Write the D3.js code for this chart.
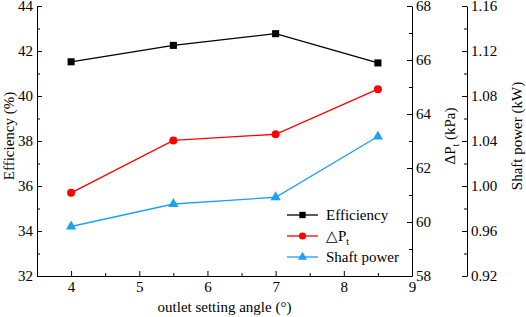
<!DOCTYPE html>
<html>
<head>
<meta charset="utf-8">
<script src="https://cdn.jsdelivr.net/npm/d3@7"></script>
<style>
  body { margin: 0; background: #fff; }
  .axis path, .axis line { stroke: #000; stroke-width: 1; }
</style>
</head>
<body>
<div id="chart"></div>
<script>
// Data
const angles = [4, 5.5, 7, 8.5];
const efficiency = [41.52, 42.25, 42.77, 41.47];
const deltaP = [61.08, 63.02, 63.25, 64.92];
const shaftPower = [0.964, 0.984, 0.990, 1.044];

const xTicks = [4, 5, 6, 7, 8, 9];
const effTicks = [32, 34, 36, 38, 40, 42, 44];
const dpTicks = [58, 60, 62, 64, 66, 68];
const powTicks = [0.92, 0.96, 1.00, 1.04, 1.08, 1.12, 1.16];

const FONT = "'Liberation Serif', 'Times New Roman', Times, serif";
const W = 526, H = 317;
const plotLeft = 37, plotRight = 412, plotTop = 6, plotBottom = 276;
const axis3 = 467;

const svg = d3.select("#chart").append("svg")
    .attr("width", W)
    .attr("height", H)
    .attr("font-family", FONT);

// Scales
const x = d3.scaleLinear().domain([3.5, 9]).range([plotLeft, plotRight]);
const yEff = d3.scaleLinear().domain([32, 44]).range([plotBottom, plotTop]);
const yDp = d3.scaleLinear().domain([58, 68]).range([plotBottom, plotTop]);
const yPow = d3.scaleLinear().domain([0.92, 1.16]).range([plotBottom, plotTop]);

// Minor ticks (no labels)
function minor(axisFn, scale, values, tx, ty) {
    svg.append("g")
        .attr("class", "axis")
        .attr("transform", `translate(${tx},${ty})`)
        .call(axisFn(scale).tickValues(values).tickSize(-3).tickFormat(""))
        .call(g => g.select(".domain").remove());
}
minor(d3.axisBottom, x, [4.5, 5.5, 6.5, 7.5, 8.5], 0, plotBottom);
minor(d3.axisLeft, yEff, [33, 35, 37, 39, 41, 43], plotLeft, 0);
minor(d3.axisRight, yDp, [59, 61, 63, 65, 67], plotRight, 0);
minor(d3.axisRight, yPow, [0.94, 0.98, 1.02, 1.06, 1.10, 1.14], axis3, 0);

function styleTicks(g) {
    g.attr("font-family", FONT);
    g.selectAll("text").style("font-size", "15px").style("font-family", FONT);
}

// Major axes
svg.append("g")
    .attr("class", "axis")
    .attr("transform", `translate(0,${plotBottom})`)
    .call(d3.axisBottom(x).tickValues(xTicks).tickSize(-5).tickPadding(5).tickSizeOuter(0)
        .tickFormat(d3.format("d")))
    .call(styleTicks);

svg.append("g")
    .attr("class", "axis")
    .attr("transform", `translate(${plotLeft},0)`)
    .call(d3.axisLeft(yEff).tickValues(effTicks).tickSize(-5).tickPadding(4).tickSizeOuter(0))
    .call(styleTicks);

svg.append("g")
    .attr("class", "axis")
    .attr("transform", `translate(${plotRight},0)`)
    .call(d3.axisRight(yDp).tickValues(dpTicks).tickSize(-5).tickPadding(4).tickSizeOuter(0))
    .call(styleTicks);

svg.append("g")
    .attr("class", "axis")
    .attr("transform", `translate(${axis3},0)`)
    .call(d3.axisRight(yPow).tickValues(powTicks).tickSize(-5).tickPadding(4).tickSizeOuter(0)
        .tickFormat(d3.format(".2f")))
    .call(styleTicks);

// Axis titles
const midY = (plotTop + plotBottom) / 2 - 5;

svg.append("text")
    .attr("x", (plotLeft + plotRight) / 2)
    .attr("y", 312)
    .attr("text-anchor", "middle")
    .style("font-size", "15px")
    .text("outlet setting angle (°)");

svg.append("text")
    .attr("transform", `translate(14,${midY}) rotate(-90)`)
    .attr("text-anchor", "middle")
    .style("font-size", "15px")
    .text("Efficiency (%)");

const dpTitle = svg.append("text")
    .attr("transform", `translate(455,${midY}) rotate(-90)`)
    .attr("text-anchor", "middle")
    .style("font-size", "15px");
dpTitle.append("tspan").text("ΔP");
dpTitle.append("tspan").attr("dy", 4).style("font-size", "10px").text("t");
dpTitle.append("tspan").attr("dy", -4).text(" (kPa)");

svg.append("text")
    .attr("transform", `translate(522,${midY}) rotate(-90)`)
    .attr("text-anchor", "middle")
    .style("font-size", "15px")
    .text("Shaft power (kW)");

// Series
const series = [
    { name: "Efficiency", values: efficiency, scale: yEff, color: "#000000", shape: d3.symbolSquare, size: 50 },
    { name: "dP", values: deltaP, scale: yDp, color: "#ff0000", shape: d3.symbolCircle, size: 50 },
    { name: "Shaft power", values: shaftPower, scale: yPow, color: "#1ea0f5", shape: d3.symbolTriangle, size: 45 }
];

series.forEach(s => {
    const pts = angles.map((a, i) => ({ a: a, v: s.values[i] }));
    const line = d3.line().x(d => x(d.a)).y(d => s.scale(d.v));
    svg.append("path")
        .datum(pts)
        .attr("fill", "none")
        .attr("stroke", s.color)
        .attr("stroke-width", 1.3)
        .attr("d", line);
    svg.selectAll(null)
        .data(pts)
        .join("path")
        .attr("transform", d => `translate(${x(d.a)},${s.scale(d.v)})`)
        .attr("d", d3.symbol().type(s.shape).size(s.size))
        .attr("fill", s.color);
});

// Legend
const legend = svg.append("g").attr("transform", "translate(287,215)");
series.forEach((s, i) => {
    const g = legend.append("g").attr("transform", `translate(0,${i * 21})`);
    g.append("line")
        .attr("x1", 0).attr("x2", 31)
        .attr("stroke", s.color)
        .attr("stroke-width", 1.3);
    g.append("path")
        .attr("transform", "translate(15.5,0)")
        .attr("d", d3.symbol().type(s.shape).size(s.size * 0.8))
        .attr("fill", s.color);
    const t = g.append("text")
        .attr("x", 39)
        .attr("dy", "0.35em")
        .style("font-size", "15px");
    if (s.name === "dP") {
        t.append("tspan").text("△P");
        t.append("tspan").attr("dy", 4).style("font-size", "10px").text("t");
    } else {
        t.text(s.name);
    }
});
</script>
</body>
</html>
